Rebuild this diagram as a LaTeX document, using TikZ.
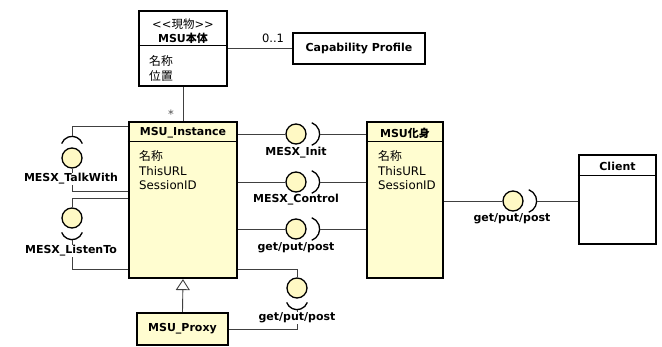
\documentclass[tikz,border=0pt]{standalone}
\usepackage{fontspec}
\setmainfont{DejaVu Sans}[Ligatures=TeXOff]
\newfontfamily\jp{Noto Sans CJK JP}
\usetikzlibrary{arrows.meta}

\definecolor{notefill}{RGB}{255,253,208}
\definecolor{ballfill}{RGB}{255,249,196}

\tikzset{
  cls/.style={draw, line width=2.2pt, fill=notefill, inner sep=0pt},
  plain/.style={draw, line width=2.2pt, fill=white, inner sep=0pt},
  title/.style={font=\fontsize{11}{13}\selectfont\bfseries, inner sep=0pt},
  attr/.style={anchor=west, inner sep=0pt, font=\fontsize{11.8}{14}\selectfont},
  ball/.style={circle, draw, fill=ballfill, minimum size=20pt, inner sep=0pt, line width=1.3pt},
  socket/.style={line width=1.3pt},
  lbl/.style={font=\fontsize{11}{13}\selectfont\bfseries, fill=white, inner sep=1pt},
  wire/.style={black!75, line width=0.9pt},
}

\begin{document}
\begin{tikzpicture}[x=1pt, y=-1pt, every node/.append style={font=\fontsize{11.5}{13}\selectfont}]
  \useasboundingbox (0,0) rectangle (662,347);

  % classes
  \node[plain, minimum width=88pt, minimum height=75pt] (body) at (183,48.5) {};
  \node[plain, minimum width=132pt, minimum height=31pt] (cap) at (359,48.5) {};
  \node[cls, minimum width=108pt, minimum height=156pt] (inst) at (183,200) {};
  \node[cls, minimum width=76pt, minimum height=156pt] (av) at (405,200) {};
  \node[plain, minimum width=77pt, minimum height=89pt] (client) at (617.5,199.5) {};
  \node[cls, minimum width=91pt, minimum height=32pt] (proxy) at (182.5,329) {};

  % compartments
  \draw[line width=0.8pt] ([yshift=-36pt]body.north west) -- ([yshift=-36pt]body.north east);
  \draw[line width=0.8pt] ([yshift=-21pt]inst.north west) -- ([yshift=-21pt]inst.north east);
  \draw[line width=0.8pt] ([yshift=-21pt]av.north west) -- ([yshift=-21pt]av.north east);
  \draw[line width=0.8pt] ([yshift=-22pt]client.north west) -- ([yshift=-22pt]client.north east);

  % names and attributes
  \node[inner sep=0pt] (bodyst) at (183,24) {<<{\jp 現物}>>};
  \node[title] (bodyname) at (183,38) {MSU{\jp 本体}};
  \node[attr] (bodya1) at (149,61) {\jp 名称};
  \node[attr] (bodya2) at (149,76) {\jp 位置};
  \node[title] (capname) at (cap) {Capability Profile};

  \node[title] (instname) at (183,133) {MSU\_Instance};
  \node[attr] (insta1) at (139,156) {\jp 名称};
  \node[attr] (insta2) at (139,171) {ThisURL};
  \node[attr] (insta3) at (139,185) {SessionID};

  \node[title] (avname) at (405,133) {MSU{\jp 化身}};
  \node[attr] (ava1) at (378,156) {\jp 名称};
  \node[attr] (ava2) at (378,171) {ThisURL};
  \node[attr] (ava3) at (378,185) {SessionID};

  \node[title] (clientname) at (617.5,166) {Client};
  \node[title] (proxyname) at (proxy) {MSU\_Proxy};

  % associations
  \draw[wire] (body.east) -- (cap.west);
  \node (mult1) at (273,38) {0..1};
  \draw[wire] (body.south) -- (inst.north);
  \node[black!70] (mult2) at (171,114) {*};
  \draw[wire, -{Triangle[open, length=11pt, width=14pt]}] (proxy.north) -- (inst.south);

  % interfaces between instance and avatar
  \node[ball] (init) at (296,134) {};
  \node[ball] (ctrl) at (296,182) {};
  \node[ball] (http) at (296,229) {};
  \draw[wire] (inst.east |- init) -- (init);
  \draw[wire] (inst.east |- ctrl) -- (ctrl);
  \draw[wire] (inst.east |- http) -- (http);
  \draw[socket] ([xshift=1pt]init.east) ++(-70:12pt) arc[start angle=-70, end angle=70, radius=12pt];
  \draw[socket] ([xshift=1pt]ctrl.east) ++(-70:12pt) arc[start angle=-70, end angle=70, radius=12pt];
  \draw[socket] ([xshift=1pt]http.east) ++(-70:12pt) arc[start angle=-70, end angle=70, radius=12pt];
  \draw[wire] ([xshift=13pt]init.east) -- (av.west |- init);
  \draw[wire] ([xshift=13pt]ctrl.east) -- (av.west |- ctrl);
  \draw[wire] ([xshift=13pt]http.east) -- (av.west |- http);
  \node[lbl] (initL) at (296,153) {MESX\_Init};
  \node[lbl] (ctrlL) at (296,200) {MESX\_Control};
  \node[lbl] (httpL) at (296,248) {get/put/post};

  % avatar to client
  \node[ball] (web) at (513,201) {};
  \draw[wire] (av.east |- web) -- (web);
  \draw[socket] ([xshift=1pt]web.east) ++(-70:12pt) arc[start angle=-70, end angle=70, radius=12pt];
  \draw[wire] ([xshift=13pt]web.east) -- (client.west |- web);
  \node[lbl] (webL) at (512,219) {get/put/post};

  % left side
  \node[ball] (talk) at (72,158) {};
  \draw[socket] (talk.north) ++(20:11pt) arc[start angle=20, end angle=160, radius=11pt];
  \draw[wire] ([yshift=11pt]talk.north) |- ([yshift=-6pt]inst.north west);
  \draw[wire] (talk.south) |- ([yshift=-71pt]inst.north west);
  \node[lbl] (talkL) at (71,179) {MESX\_TalkWith};

  \node[ball] (listen) at (72,218) {};
  \draw[socket] (listen.south) ++(200:11pt) arc[start angle=200, end angle=340, radius=11pt];
  \draw[wire] (listen.north) |- ([yshift=-78pt]inst.north west);
  \draw[wire] ([yshift=-11pt]listen.south) |- ([yshift=10pt]inst.south west);
  \node[lbl] (listenL) at (71,251) {MESX\_ListenTo};

  % proxy side
  \node[ball] (pxy) at (297,288) {};
  \draw[socket] (pxy.south) ++(200:11pt) arc[start angle=200, end angle=340, radius=11pt];
  \draw[wire] (pxy.north) |- ([yshift=10pt]inst.south east);
  \draw[wire] ([yshift=-11pt]pxy.south) |- (proxy.east);
  \node[lbl] (pxyL) at (297,318) {get/put/post};
\end{tikzpicture}
\end{document}
